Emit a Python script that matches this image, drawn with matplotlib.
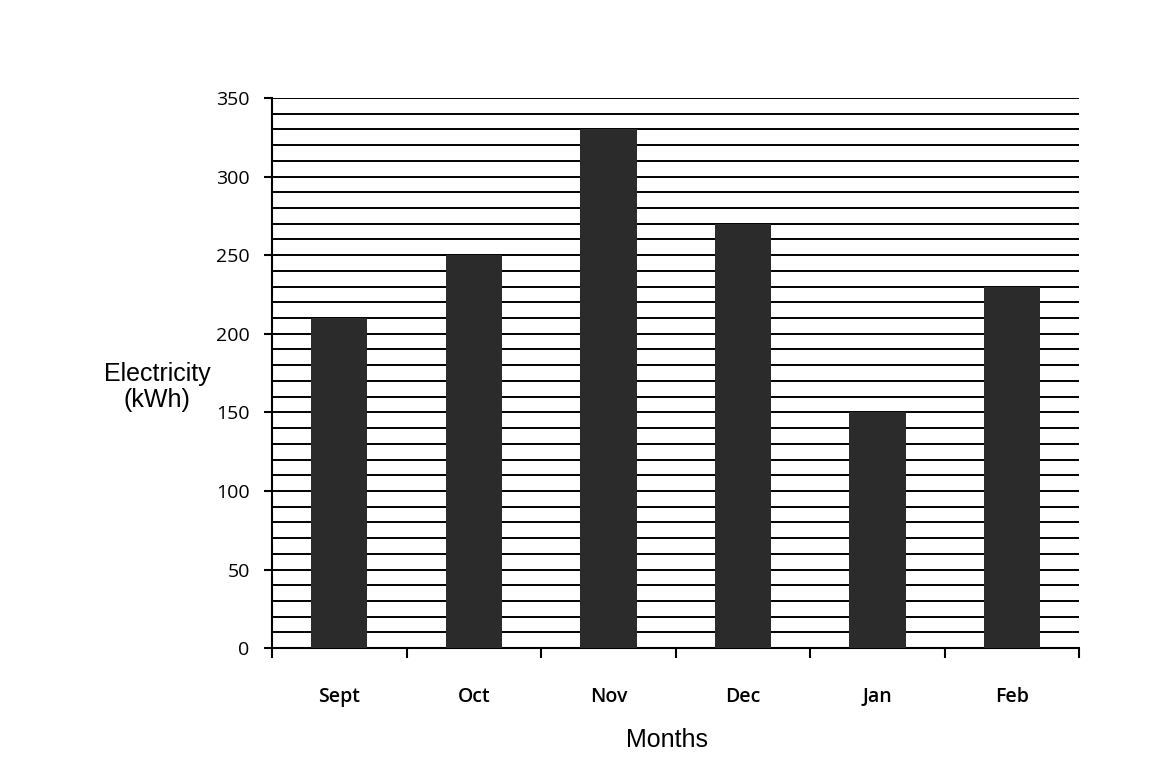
import numpy as np
import matplotlib.pyplot as plt

# monthly electricity use
months = ['Sept', 'Oct', 'Nov', 'Dec', 'Jan', 'Feb']
electricity = [210, 250, 330, 270, 150, 230]

fig = plt.figure(figsize=(11.62, 7.59), dpi=100)
ax = fig.add_axes([0.234, 0.146, 0.695, 0.725])

x = np.arange(len(months))
ax.bar(x, electricity, width=0.42, color='#2b2b2b', zorder=3)

ax.set_xlim(-0.5, len(months) - 0.5)
ax.set_ylim(0, 350)

# minor gridlines every 10 kWh
for y in range(10, 351, 10):
    ax.axhline(y, color='black', lw=1.4, zorder=1)

ax.set_yticks(range(0, 351, 50))
ax.set_yticklabels([str(v) for v in range(0, 351, 50)], fontsize=14, family='Open Sans')
ax.set_xticks(x)
ax.set_xticklabels(months, fontsize=14, family='Open Sans', fontweight='semibold')
ax.set_xticks(np.arange(-0.5, len(months)), minor=True)
ax.tick_params(axis='x', which='major', length=0, pad=28)
ax.tick_params(axis='x', which='minor', length=7, width=1.5, direction='out')
ax.tick_params(axis='y', length=6, width=1.5, direction='out', pad=10)

for s in ['top', 'right']:
    ax.spines[s].set_visible(False)
ax.spines['left'].set_linewidth(1.5)
ax.spines['bottom'].set_linewidth(1.5)

fig.text(0.135, 0.49, 'Electricity\n(kWh)', fontsize=18, family='Liberation Sans',
         ha='center', va='center', linespacing=1.1)
fig.text(0.574, 0.025, 'Months', fontsize=18, family='Liberation Sans', ha='center', va='center')

fig.savefig('out.png', dpi=100)
